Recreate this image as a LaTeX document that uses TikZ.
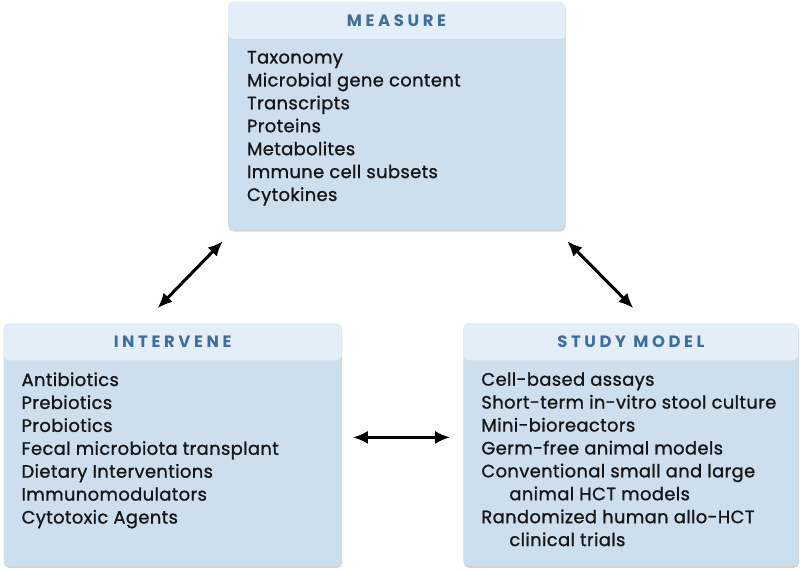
\documentclass[tikz,border=0pt]{standalone}
\usepackage{fontspec}
\setmainfont{Poppins}
\usetikzlibrary{positioning,shadows,arrows.meta}

\definecolor{headfill}{HTML}{E4EEF9}
\definecolor{bodyfill}{HTML}{CDDEEE}
\definecolor{titleblue}{HTML}{3F6E9C}
\definecolor{itemtext}{HTML}{161616}

\tikzset{
  panel/.style={rectangle, rounded corners=5bp, fill=bodyfill, draw=none,
    drop shadow={opacity=0.35, shadow xshift=0.5bp, shadow yshift=-1.5bp},
    path picture={\fill[headfill] (path picture bounding box.north west)
      rectangle ([yshift=-37bp]path picture bounding box.north east);}},
  paneltitle/.style={font=\fontsize{16.5}{18}\selectfont\bfseries\addfontfeature{LetterSpace=22},
    text=titleblue, inner sep=0},
  itemlist/.style={font=\fontsize{18}{23}\selectfont\addfontfeature{LetterSpace=2,FakeBold=1.1},
    text=itemtext, align=left, inner sep=0, anchor=north west,
    execute at begin node=\strut},
  link/.style={{Latex[length=15bp,width=13bp]}-{Latex[length=15bp,width=13bp]},
    line width=3bp, black}
}

\begin{document}
\begin{tikzpicture}[x=1bp,y=-1bp]
\useasboundingbox (0,0) rectangle (800,571);

% the three panels
\node[panel, minimum width=337bp, minimum height=228bp] (measure) at (396.5,116) {};
\node[panel, minimum width=338bp, minimum height=243bp] (intervene)
  [below left=93bp and -114bp of measure.south west] {};
\node[panel, minimum width=335bp, minimum height=243bp] (study)
  [below right=93bp and -102bp of measure.south east] {};

% titles
\node[paneltitle] (measure-title) at ([yshift=-19bp]measure.north) {MEASURE};
\node[paneltitle] (intervene-title) at ([yshift=-19bp]intervene.north) {INTERVENE};
\node[paneltitle] (study-title) at ([yshift=-19bp]study.north) {STUDY MODEL};

% item lists
\node[itemlist] (measure-items) at ([shift={(19bp,-49bp)}]measure.north west)
  {Taxonomy\\Microbial gene content\\Transcripts\\Proteins\\Metabolites\\Immune cell subsets\\Cytokines};
\node[itemlist] (intervene-items) at ([shift={(18bp,-49bp)}]intervene.north west)
  {Antibiotics\\Prebiotics\\Probiotics\\Fecal microbiota transplant\\Dietary Interventions\\Immunomodulators\\Cytotoxic Agents};
\node[itemlist] (study-items) at ([shift={(18bp,-49bp)}]study.north west)
  {Cell-based assays\\Short-term in-vitro stool culture\\Mini-bioreactors\\Germ-free animal models\\
   Conventional small and large\\\hspace*{28bp}animal HCT models\\Randomized human allo-HCT\\\hspace*{28bp}clinical trials};

% links
\draw[link] ([shift={(-15bp,15bp)}]intervene.north) -- ([shift={(-5bp,-11bp)}]measure.south west);
\draw[link] ([shift={(2bp,-11bp)}]measure.south east) -- ([shift={(2.5bp,15bp)}]study.north);
\draw[link] ([shift={(11bp,7.5bp)}]intervene.east) -- ([shift={(-13bp,7.5bp)}]study.west);
\end{tikzpicture}
\end{document}
